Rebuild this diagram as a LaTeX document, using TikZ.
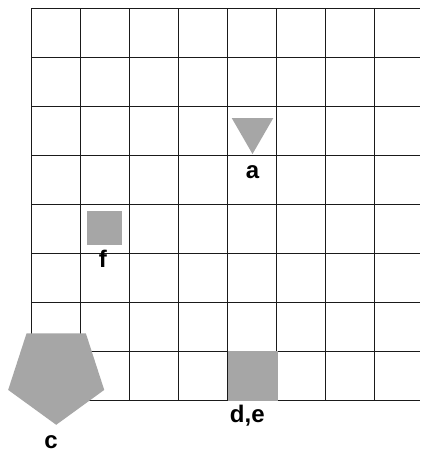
\documentclass[tikz,border=0pt]{standalone}
\usepackage{fontspec}
\setmainfont{Liberation Sans}
\usepackage{tikz}
\usetikzlibrary{shapes.geometric}
\definecolor{shade}{HTML}{A6A6A6}
\definecolor{gridink}{HTML}{1A1A1A}

\begin{document}
\begin{tikzpicture}[
  x=1pt,y=-1pt,
  gridline/.style={draw=gridink,line width=1.4pt},
  piece/.style={fill=shade,draw=none,inner sep=0pt},
  tag/.style={fill=white,font=\fontsize{24}{26}\selectfont\bfseries,anchor=base,
              inner xsep=5pt,inner ysep=1pt,text height=1em,text depth=0pt}
]
\useasboundingbox (0,0) rectangle (420,452);
\fill[white] (0,0) rectangle (420,452);

% board
\foreach \i in {0,...,7}
  \draw[gridline] (31.7+49*\i,8.3) -- (31.7+49*\i,400.3);
\foreach \j in {0,...,8}
  \draw[gridline] (31.7,8.3+49*\j) -- (420,8.3+49*\j);

% pieces
\node[piece,regular polygon,regular polygon sides=3,shape border rotate=180,
      minimum size=48pt] (a) at (252.5,130) {};
\node[piece,rectangle,minimum width=35pt,minimum height=34pt] (f) at (104.8,227.5) {};
\node[piece,rectangle,minimum size=50pt] (de) at (252.5,375.5) {};
\node[piece,regular polygon,regular polygon sides=5,shape border rotate=180,
      minimum size=101pt] (c) at (56.2,374.3) {};

% labels
\node[tag] (la) at (252.5,178) {a};
\node[tag] (lf) at (102.8,267) {f};
\node[tag] (lde) at (247.3,422) {d,e};
\node[tag] (lc) at (51,448) {c};
\end{tikzpicture}
\end{document}
